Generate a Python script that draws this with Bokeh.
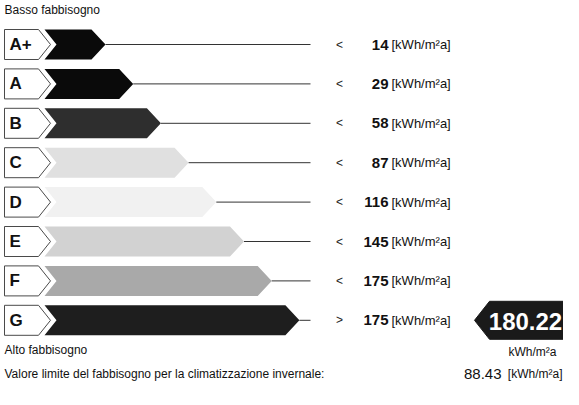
import numpy as np
from bokeh.plotting import figure
from bokeh.models import Range1d, ColumnDataSource
from bokeh.core.properties import value
from bokeh.embed import file_html
from bokeh.resources import INLINE

# ---- data ----
classes = ["A+", "A", "B", "C", "D", "E", "F", "G"]
limits = [14, 29, 58, 87, 116, 145, 175, 175]
signs = ["<", "<", "<", "<", "<", "<", "<", ">"]
class_colors = ["#0a0a0a", "#0a0a0a", "#2e2e2e", "#e0e0e0", "#f1f1f1", "#d2d2d2", "#a9a9a9", "#1e1e1e"]
unit = "[kWh/m²a]"
current_value = "180.22"
current_unit = "kWh/m²a"
limit_label = "Valore limite del fabbisogno per la climatizzazione invernale:"
limit_value = "88.43"
top_label = "Basso fabbisogno"
bottom_label = "Alto fabbisogno"
current_class = "G"

FONT = "Liberation Sans"

W, H = 563, 389
p = figure(width=W, height=H, output_backend="svg", toolbar_location=None,
           x_range=Range1d(8, 8 + W), y_range=Range1d(8 + H, 8),
           x_axis_location=None, y_axis_location=None, min_border=0)
p.grid.visible = False
p.outline_line_color = None
p.background_fill_color = "white"

n = len(classes)
y0, pitch, hh = 52.0, 39.4, 15.0
rows = y0 + pitch * np.arange(n)
tip0, tip_step = 113.0, 27.7
tips = tip0 + tip_step * np.arange(n)
line_end = 318.0

# label boxes
bx, by = [], []
for y in rows:
    bx.append([12, 46, 58, 46, 12])
    by.append([y - hh, y - hh, y, y + hh, y + hh])
p.patches(bx, by, fill_color="white", line_color="#4a4a4a", line_width=1.0)

# bars
xs, ys = [], []
for y, t in zip(rows, tips):
    xs.append([52, t - 14, t, t - 14, 52, 64])
    ys.append([y - hh, y - hh, y, y + hh, y + hh, y])
p.patches(xs, ys, fill_color=class_colors, line_color=None)

# leader lines
p.segment(x0=tips, y0=rows, x1=[line_end] * n, y1=rows, line_color="#333333", line_width=1)

src = ColumnDataSource(dict(
    cls=classes, y=rows, sign=signs, val=[str(v) for v in limits],
    unit=[unit] * n,
    lx=[17] * n, sx=[347] * n, vx=[396] * n, ux=[399] * n))

p.text(x="lx", y="y", text="cls", source=src, text_font=value(FONT), text_font_style="bold",
       text_font_size=value("17px"), text_baseline="middle", text_color="#111111")
p.text(x="sx", y="y", text="sign", source=src, text_font=value(FONT),
       text_font_size=value("12px"), text_baseline="middle", text_align="center", text_color="#222222")
p.text(x="vx", y="y", text="val", source=src, text_font=value(FONT), text_font_style="bold",
       text_font_size=value("15px"), text_baseline="middle", text_align="right", text_color="#111111")
p.text(x="ux", y="y", text="unit", source=src, text_font=value(FONT),
       text_font_size=value("13px"), text_baseline="middle", text_color="#111111")

# current value arrow
ci = classes.index(current_class)
cy = rows[ci]
p.patch([482, 497, 8 + W, 8 + W, 497], [cy, cy - 19, cy - 19, cy + 19, cy + 19],
        fill_color="#1a1a1a", line_color="#1a1a1a")
p.text(x=[533], y=[cy + 1], text=[current_value], text_font=value(FONT), text_font_style="bold",
       text_font_size=value("24px"), text_baseline="middle", text_align="center", text_color="white")
p.text(x=[540], y=[cy + 32], text=[current_unit], text_font=value(FONT),
       text_font_size=value("12px"), text_baseline="middle", text_align="center", text_color="#111111")

# side labels
p.text(x=[12], y=[17], text=[top_label], text_font=value(FONT),
       text_font_size=value("12px"), text_baseline="middle", text_color="#111111")
p.text(x=[12], y=[357], text=[bottom_label], text_font=value(FONT),
       text_font_size=value("12px"), text_baseline="middle", text_color="#111111")
p.text(x=[12], y=[381], text=[limit_label], text_font=value(FONT),
       text_font_size=value("12px"), text_baseline="middle", text_color="#111111")
p.text(x=[509], y=[381], text=[limit_value], text_font=value(FONT),
       text_font_size=value("15px"), text_baseline="middle", text_align="right", text_color="#111111")
p.text(x=[570], y=[381], text=[unit], text_font=value(FONT),
       text_font_size=value("12px"), text_baseline="middle", text_align="right", text_color="#111111")

open("out.html", "w").write(file_html(p, INLINE))
